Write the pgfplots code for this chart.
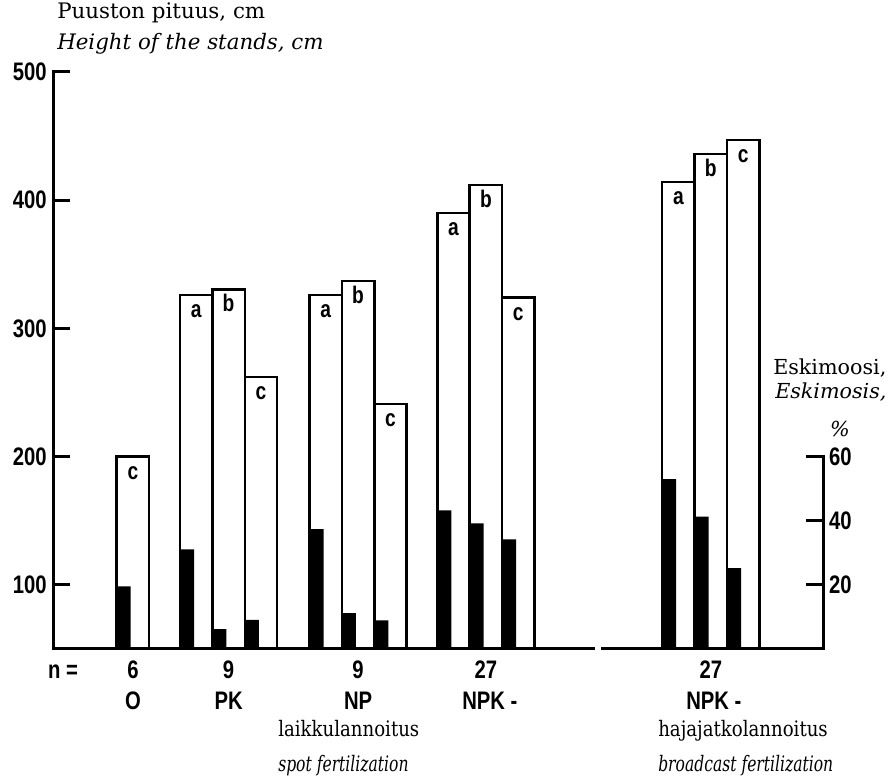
\documentclass[border=0pt]{standalone}
\usepackage{fontspec}
\setmainfont{DejaVu Serif}
\newfontfamily\condsans[FakeStretch=0.8]{Liberation Sans}
\newfontfamily\narrowserif[FakeStretch=0.85]{DejaVu Serif}
\newfontfamily\narrowit[FakeStretch=0.73]{DejaVu Serif Italic}
\usepackage{pgfplots}
\usepackage{pgfplotstable}
\pgfplotsset{compat=1.18}
\newcommand\lab{\condsans\bfseries\fontsize{19}{19}\selectfont}
\newcommand\barlab{\condsans\bfseries\fontsize{18}{18}\selectfont}

% Height of the stands, cm (x = bar centre in drawing units)
\pgfplotstableread{
x     h      lab
132.9 200    c
196.2 326    a
228.6 330.5  b
261.0 262    c
325.7 326    a
358.1 337    b
390.5 241    c
453.5 390    a
485.9 412    b
518.3 324    c
678.4 414    a
710.8 436    b
743.2 447    c
}\heights

% Eskimosis, %
\pgfplotstableread{
x     e
123.7 19.5
187.0 31.1
219.4 6.2
251.8 9.1
316.5 37.4
348.9 11.2
381.3 8.9
444.3 43.2
476.7 39.2
509.1 34.2
669.2 53.0
701.6 41.3
734.0 25.2
}\eskimo

\begin{document}
\begin{tikzpicture}[x=0.75pt,y=0.75pt]
\useasboundingbox (0,0) rectangle (895,781);

\begin{axis}[
  at={(40.125pt,99pt)}, anchor=south west,
  scale only axis, width=577.5pt, height=432.8pt,
  xmin=53.5, xmax=823.5, ymin=50, ymax=500,
  axis x line=none, axis y line*=left,
  y axis line style={draw=none},
  ytick={100,200,300,400,500},
  tick align=inside,
  major tick length=12pt,
  major tick style={line width=2.25pt, black},
  yticklabel style={font=\lab, inner sep=0pt, xshift=-5pt},
  /pgf/number format/assume math mode=true,
  clip mode=individual,
]
\addplot[ybar, bar width=32.4, fill=white, draw=black, line width=1.9pt,
  nodes near coords, point meta=explicit symbolic,
  nodes near coords align={anchor=base},
  every node near coord/.append style={font=\barlab, yshift=-17pt, inner sep=0pt, text=black}]
  table[x=x, y=h, meta=lab] {\heights};
\draw[line width=2.25pt, line join=miter] ([xshift=12pt]axis cs:53.5,500) -- (axis cs:53.5,500) -- (axis cs:53.5,50) -- (axis cs:595,50);
\draw[line width=2.25pt] (axis cs:601,50) -- (axis cs:823.5,50);
\end{axis}

\begin{axis}[
  at={(40.125pt,99pt)}, anchor=south west,
  scale only axis, width=577.5pt, height=432.8pt,
  xmin=53.5, xmax=823.5, ymin=0, ymax=180,
  axis x line=none, axis y line*=right,
  y axis line style={draw=none},
  ytick={20,40,60},
  tick align=inside,
  major tick length=13pt,
  major tick style={line width=2.25pt, black},
  yticklabel style={font=\lab, inner sep=0pt, xshift=4pt},
  /pgf/number format/assume math mode=true,
  clip mode=individual,
]
\addplot[ybar, bar width=14, fill=black, draw=none] table[x=x, y=e] {\eskimo};
\draw[line width=2.25pt, line join=miter] ([xshift=-13pt]axis cs:823.5,60) -- (axis cs:823.5,60) -- (axis cs:823.5,0) -- (axis cs:601,0);
\end{axis}

% titles
\node[anchor=base west, inner sep=0pt] at (57,762) {\fontsize{16}{16}\selectfont Puuston pituus, cm};
\node[anchor=base west, inner sep=0pt] at (57,731) {\fontsize{16}{16}\selectfont\itshape Height of the stands, cm};
\node[anchor=base west, inner sep=0pt] at (773,406) {\fontsize{15.5}{15.5}\selectfont Eskimoosi,};
\node[anchor=base west, inner sep=0pt] at (775,382) {\fontsize{15.5}{15.5}\selectfont\itshape Eskimosis,};
\node[anchor=base, inner sep=0pt] at (840,344) {\fontsize{15.5}{15.5}\selectfont\itshape\%};

% category labels
\node[anchor=base, inner sep=0pt] at (63,102) {\lab n =};
\node[anchor=base, inner sep=0pt] at (132.9,102) {\lab 6};
\node[anchor=base, inner sep=0pt] at (228.6,102) {\lab 9};
\node[anchor=base, inner sep=0pt] at (358.1,102) {\lab 9};
\node[anchor=base, inner sep=0pt] at (485.9,102) {\lab 27};
\node[anchor=base, inner sep=0pt] at (710.8,102) {\lab 27};
\node[anchor=base, inner sep=0pt] at (132.9,71) {\lab O};
\node[anchor=base, inner sep=0pt] at (228.6,71) {\lab PK};
\node[anchor=base, inner sep=0pt] at (358.1,71) {\lab NP};
\node[anchor=base west, inner sep=0pt] at (462,71) {\lab NPK -};
\node[anchor=base west, inner sep=0pt] at (686,71) {\lab NPK -};
\node[anchor=base west, inner sep=0pt] at (278,44) {\narrowserif\fontsize{16}{16}\selectfont laikkulannoitus};
\node[anchor=base west, inner sep=0pt] at (278,10) {\narrowit\fontsize{16}{16}\selectfont spot fertilization};
\node[anchor=base west, inner sep=0pt] at (658,44) {\narrowserif\fontsize{16}{16}\selectfont hajajatkolannoitus};
\node[anchor=base west, inner sep=0pt] at (658,10) {\narrowit\fontsize{16}{16}\selectfont broadcast fertilization};
\end{tikzpicture}
\end{document}
